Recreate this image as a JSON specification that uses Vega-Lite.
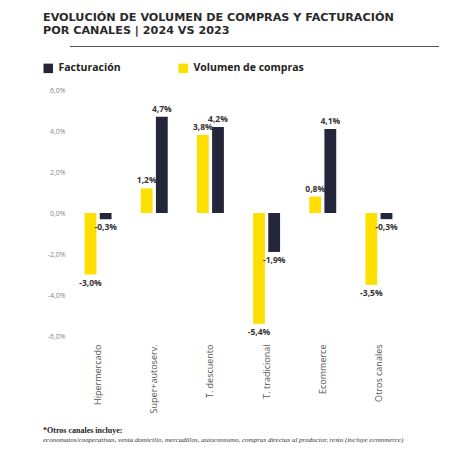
{
  "$schema": "https://vega.github.io/schema/vega-lite/v6.json",
  "padding": {"left": 43, "top": 11, "right": 5, "bottom": 5},
  "background": "white",
  "config": {
    "locale": {"number": {"decimal": ",", "thousands": ".", "grouping": [3], "currency": ["", " €"], "minus": "-"}},
    "view": {"stroke": null},
    "font": "Open Sans"
  },
  "title": {
    "text": ["EVOLUCIÓN DE VOLUMEN DE COMPRAS Y FACTURACIÓN", "POR CANALES | 2024 VS 2023"],
    "anchor": "start",
    "font": "DejaVu Sans",
    "fontSize": 11.2,
    "fontWeight": "bold",
    "color": "#2a2a2a",
    "lineHeight": 13,
    "offset": 10
  },
  "resolve": {"legend": {"color": "independent"}},
  "spacing": 16,
  "vconcat": [
    {
      "width": 369,
      "height": 1,
      "data": {"values": [{"linea": 0}]},
      "mark": {"type": "rule", "color": "#555", "strokeWidth": 1},
      "encoding": {"y": {"field": "linea", "type": "quantitative", "axis": null}}
    },
    {
      "width": 337,
      "height": 246,
      "title": {
        "text": "*Otros canales incluye:",
        "subtitle": "economatos/cooperativas, venta domicilio, mercadillos, autoconsumo, compras directas al productor, resto (incluye ecommerce)",
        "orient": "bottom",
        "anchor": "start",
        "frame": "group",
        "dx": -27,
        "offset": 14,
        "font": "Liberation Serif",
        "fontSize": 8,
        "fontWeight": "bold",
        "color": "#222",
        "subtitleFont": "Liberation Serif",
        "subtitleFontStyle": "italic",
        "subtitleFontSize": 7,
        "subtitleColor": "#333",
        "subtitlePadding": 1
      },
      "data": {
        "values": [
          {"canal": "Hipermercado", "serie": "Volumen de compras", "valor": -0.030},
          {"canal": "Hipermercado", "serie": "Facturación", "valor": -0.003},
          {"canal": "Super+autoserv.", "serie": "Volumen de compras", "valor": 0.012},
          {"canal": "Super+autoserv.", "serie": "Facturación", "valor": 0.047},
          {"canal": "T. descuento", "serie": "Volumen de compras", "valor": 0.038},
          {"canal": "T. descuento", "serie": "Facturación", "valor": 0.042},
          {"canal": "T. tradicional", "serie": "Volumen de compras", "valor": -0.054},
          {"canal": "T. tradicional", "serie": "Facturación", "valor": -0.019},
          {"canal": "Ecommerce", "serie": "Volumen de compras", "valor": 0.008},
          {"canal": "Ecommerce", "serie": "Facturación", "valor": 0.041},
          {"canal": "Otros canales", "serie": "Volumen de compras", "valor": -0.035},
          {"canal": "Otros canales", "serie": "Facturación", "valor": -0.003}
        ]
      },
      "encoding": {
        "x": {
          "field": "canal",
          "type": "nominal",
          "sort": ["Hipermercado", "Super+autoserv.", "T. descuento", "T. tradicional", "Ecommerce", "Otros canales"],
          "scale": {"paddingInner": 0.52, "paddingOuter": 0.26},
          "axis": {
            "title": null,
            "domain": false,
            "ticks": false,
            "labelAngle": -90,
            "labelPadding": 8,
            "labelFontSize": 9,
            "labelColor": "#555",
            "labelFont": "Open Sans"
          }
        },
        "y": {
          "field": "valor",
          "type": "quantitative",
          "scale": {"domain": [-0.06, 0.06], "nice": false},
          "axis": {
            "title": null,
            "format": ".1%",
            "values": [-0.06, -0.04, -0.02, 0, 0.02, 0.04, 0.06],
            "grid": false,
            "domain": false,
            "ticks": false,
            "labelPadding": 5,
            "labelFontSize": 7,
            "labelColor": "#888"
          }
        }
      },
      "layer": [
        {
          "data": {"values": [{}]},
          "mark": {"type": "rule", "color": "#dcdcdc", "strokeWidth": 1},
          "encoding": {"x": null, "y": {"datum": 0}}
        },
        {
          "mark": {"type": "bar"},
          "encoding": {
            "xOffset": {
              "field": "serie",
              "sort": ["Volumen de compras", "Facturación"],
              "scale": {"paddingInner": 0.22}
            },
            "color": {
              "field": "serie",
              "type": "nominal",
              "scale": {"domain": ["Facturación", "Volumen de compras"], "range": ["#24263a", "#ffdf00"]},
              "legend": {
                "orient": "none",
                "legendX": -27,
                "legendY": -27,
                "direction": "horizontal",
                "title": null,
                "symbolType": "square",
                "symbolSize": 90,
                "symbolStrokeWidth": 0,
                "symbolOpacity": 1,
                "labelFont": "Open Sans",
                "labelFontWeight": "bold",
                "labelFontSize": 10.5,
                "labelColor": "#222",
                "labelOffset": 5,
                "columnPadding": 57
              }
            }
          }
        },
        {
          "transform": [{"filter": "datum.valor >= 0"}],
          "mark": {"type": "text", "baseline": "bottom", "dy": -3, "fontSize": 8.5, "fontWeight": "bold", "color": "#333"},
          "encoding": {
            "xOffset": {"field": "serie", "sort": ["Volumen de compras", "Facturación"]},
            "text": {"field": "valor", "type": "quantitative", "format": ".1%"}
          }
        },
        {
          "transform": [{"filter": "datum.valor < 0"}],
          "mark": {"type": "text", "baseline": "top", "dy": 4, "fontSize": 8.5, "fontWeight": "bold", "color": "#333"},
          "encoding": {
            "xOffset": {"field": "serie", "sort": ["Volumen de compras", "Facturación"]},
            "text": {"field": "valor", "type": "quantitative", "format": ".1%"}
          }
        }
      ]
    }
  ]
}
